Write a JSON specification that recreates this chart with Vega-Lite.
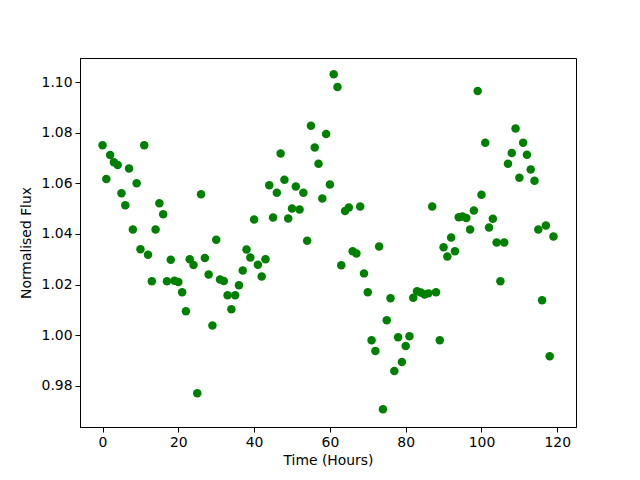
{
  "$schema": "https://vega.github.io/schema/vega-lite/v6.json",
  "width": 496,
  "height": 369,
  "autosize": {"type": "none"},
  "padding": {"left": 80, "top": 58, "right": 64, "bottom": 53},
  "background": "white",
  "config": {
    "view": {"stroke": "black", "strokeWidth": 1},
    "font": "DejaVu Sans",
    "axis": {
      "grid": false,
      "domainColor": "black",
      "domainWidth": 1,
      "tickColor": "black",
      "tickSize": 5,
      "tickWidth": 1,
      "labelFont": "DejaVu Sans",
      "labelFontSize": 13.9,
      "labelColor": "black",
      "labelPadding": 3,
      "titleFont": "DejaVu Sans",
      "titleFontSize": 13.9,
      "titleFontWeight": "normal",
      "titleColor": "black"
    }
  },
  "data": {
    "values": [
      {"h": 0, "f": 1.075}, {"h": 1, "f": 1.0617}, {"h": 2, "f": 1.0712}, {"h": 3, "f": 1.0683}, {"h": 4, "f": 1.0672},
      {"h": 5, "f": 1.0561}, {"h": 6, "f": 1.0513}, {"h": 7, "f": 1.0658}, {"h": 8, "f": 1.0417}, {"h": 9, "f": 1.0600},
      {"h": 10, "f": 1.0339}, {"h": 11, "f": 1.0750}, {"h": 12, "f": 1.0318}, {"h": 13, "f": 1.0213}, {"h": 14, "f": 1.0417},
      {"h": 15, "f": 1.0521}, {"h": 16, "f": 1.0478}, {"h": 17, "f": 1.0213}, {"h": 18, "f": 1.0298}, {"h": 19, "f": 1.0215},
      {"h": 20, "f": 1.0210}, {"h": 21, "f": 1.0169}, {"h": 22, "f": 1.0094}, {"h": 23, "f": 1.0300}, {"h": 24, "f": 1.0277},
      {"h": 25, "f": 0.9770}, {"h": 26, "f": 1.0557}, {"h": 27, "f": 1.0305}, {"h": 28, "f": 1.0240}, {"h": 29, "f": 1.0038},
      {"h": 30, "f": 1.0377}, {"h": 31, "f": 1.0220}, {"h": 32, "f": 1.0214}, {"h": 33, "f": 1.0158}, {"h": 34, "f": 1.0102},
      {"h": 35, "f": 1.0158}, {"h": 36, "f": 1.0197}, {"h": 37, "f": 1.0255}, {"h": 38, "f": 1.0338}, {"h": 39, "f": 1.0307},
      {"h": 40, "f": 1.0457}, {"h": 41, "f": 1.0278}, {"h": 42, "f": 1.0232}, {"h": 43, "f": 1.0300}, {"h": 44, "f": 1.0592},
      {"h": 45, "f": 1.0465}, {"h": 46, "f": 1.0563}, {"h": 47, "f": 1.0718}, {"h": 48, "f": 1.0614}, {"h": 49, "f": 1.0461},
      {"h": 50, "f": 1.0500}, {"h": 51, "f": 1.0587}, {"h": 52, "f": 1.0496}, {"h": 53, "f": 1.0563}, {"h": 54, "f": 1.0373},
      {"h": 55, "f": 1.0827}, {"h": 56, "f": 1.0741}, {"h": 57, "f": 1.0677}, {"h": 58, "f": 1.0540}, {"h": 59, "f": 1.0795},
      {"h": 60, "f": 1.0595}, {"h": 61, "f": 1.1031}, {"h": 62, "f": 1.0980}, {"h": 63, "f": 1.0276}, {"h": 64, "f": 1.0490},
      {"h": 65, "f": 1.0504}, {"h": 66, "f": 1.0331}, {"h": 67, "f": 1.0323}, {"h": 68, "f": 1.0508}, {"h": 69, "f": 1.0244},
      {"h": 70, "f": 1.0169}, {"h": 71, "f": 0.9980}, {"h": 72, "f": 0.9937}, {"h": 73, "f": 1.0350}, {"h": 74, "f": 0.9707},
      {"h": 75, "f": 1.0059}, {"h": 76, "f": 1.0146}, {"h": 77, "f": 0.9858}, {"h": 78, "f": 0.9992}, {"h": 79, "f": 0.9894},
      {"h": 80, "f": 0.9957}, {"h": 81, "f": 0.9996}, {"h": 82, "f": 1.0148}, {"h": 83, "f": 1.0173}, {"h": 84, "f": 1.0168},
      {"h": 85, "f": 1.0161}, {"h": 86, "f": 1.0165}, {"h": 87, "f": 1.0508}, {"h": 88, "f": 1.0169}, {"h": 89, "f": 0.9980},
      {"h": 90, "f": 1.0347}, {"h": 91, "f": 1.0311}, {"h": 92, "f": 1.0386}, {"h": 93, "f": 1.0331}, {"h": 94, "f": 1.0466},
      {"h": 95, "f": 1.0469}, {"h": 96, "f": 1.0463}, {"h": 97, "f": 1.0417}, {"h": 98, "f": 1.0492}, {"h": 99, "f": 1.0965},
      {"h": 100, "f": 1.0555}, {"h": 101, "f": 1.0760}, {"h": 102, "f": 1.0425}, {"h": 103, "f": 1.0460}, {"h": 104, "f": 1.0366},
      {"h": 105, "f": 1.0213}, {"h": 106, "f": 1.0366}, {"h": 107, "f": 1.0677}, {"h": 108, "f": 1.0720}, {"h": 109, "f": 1.0816},
      {"h": 110, "f": 1.0622}, {"h": 111, "f": 1.0760}, {"h": 112, "f": 1.0713}, {"h": 113, "f": 1.0654}, {"h": 114, "f": 1.0610},
      {"h": 115, "f": 1.0417}, {"h": 116, "f": 1.0138}, {"h": 117, "f": 1.0433}, {"h": 118, "f": 0.9917}, {"h": 119, "f": 1.0390}
    ]
  },
  "mark": {"type": "circle", "color": "#008000", "opacity": 1, "size": 72},
  "encoding": {
    "x": {
      "field": "h",
      "type": "quantitative",
      "title": "Time (Hours)",
      "scale": {"domain": [-5.95, 124.95], "nice": false, "zero": false},
      "axis": {"values": [0, 20, 40, 60, 80, 100, 120], "format": "d", "titlePadding": 5}
    },
    "y": {
      "field": "f",
      "type": "quantitative",
      "title": "Normalised Flux",
      "scale": {"domain": [0.9637, 1.1095], "nice": false, "zero": false},
      "axis": {"values": [0.98, 1.0, 1.02, 1.04, 1.06, 1.08, 1.1], "format": ".2f", "titlePadding": 8}
    }
  }
}
